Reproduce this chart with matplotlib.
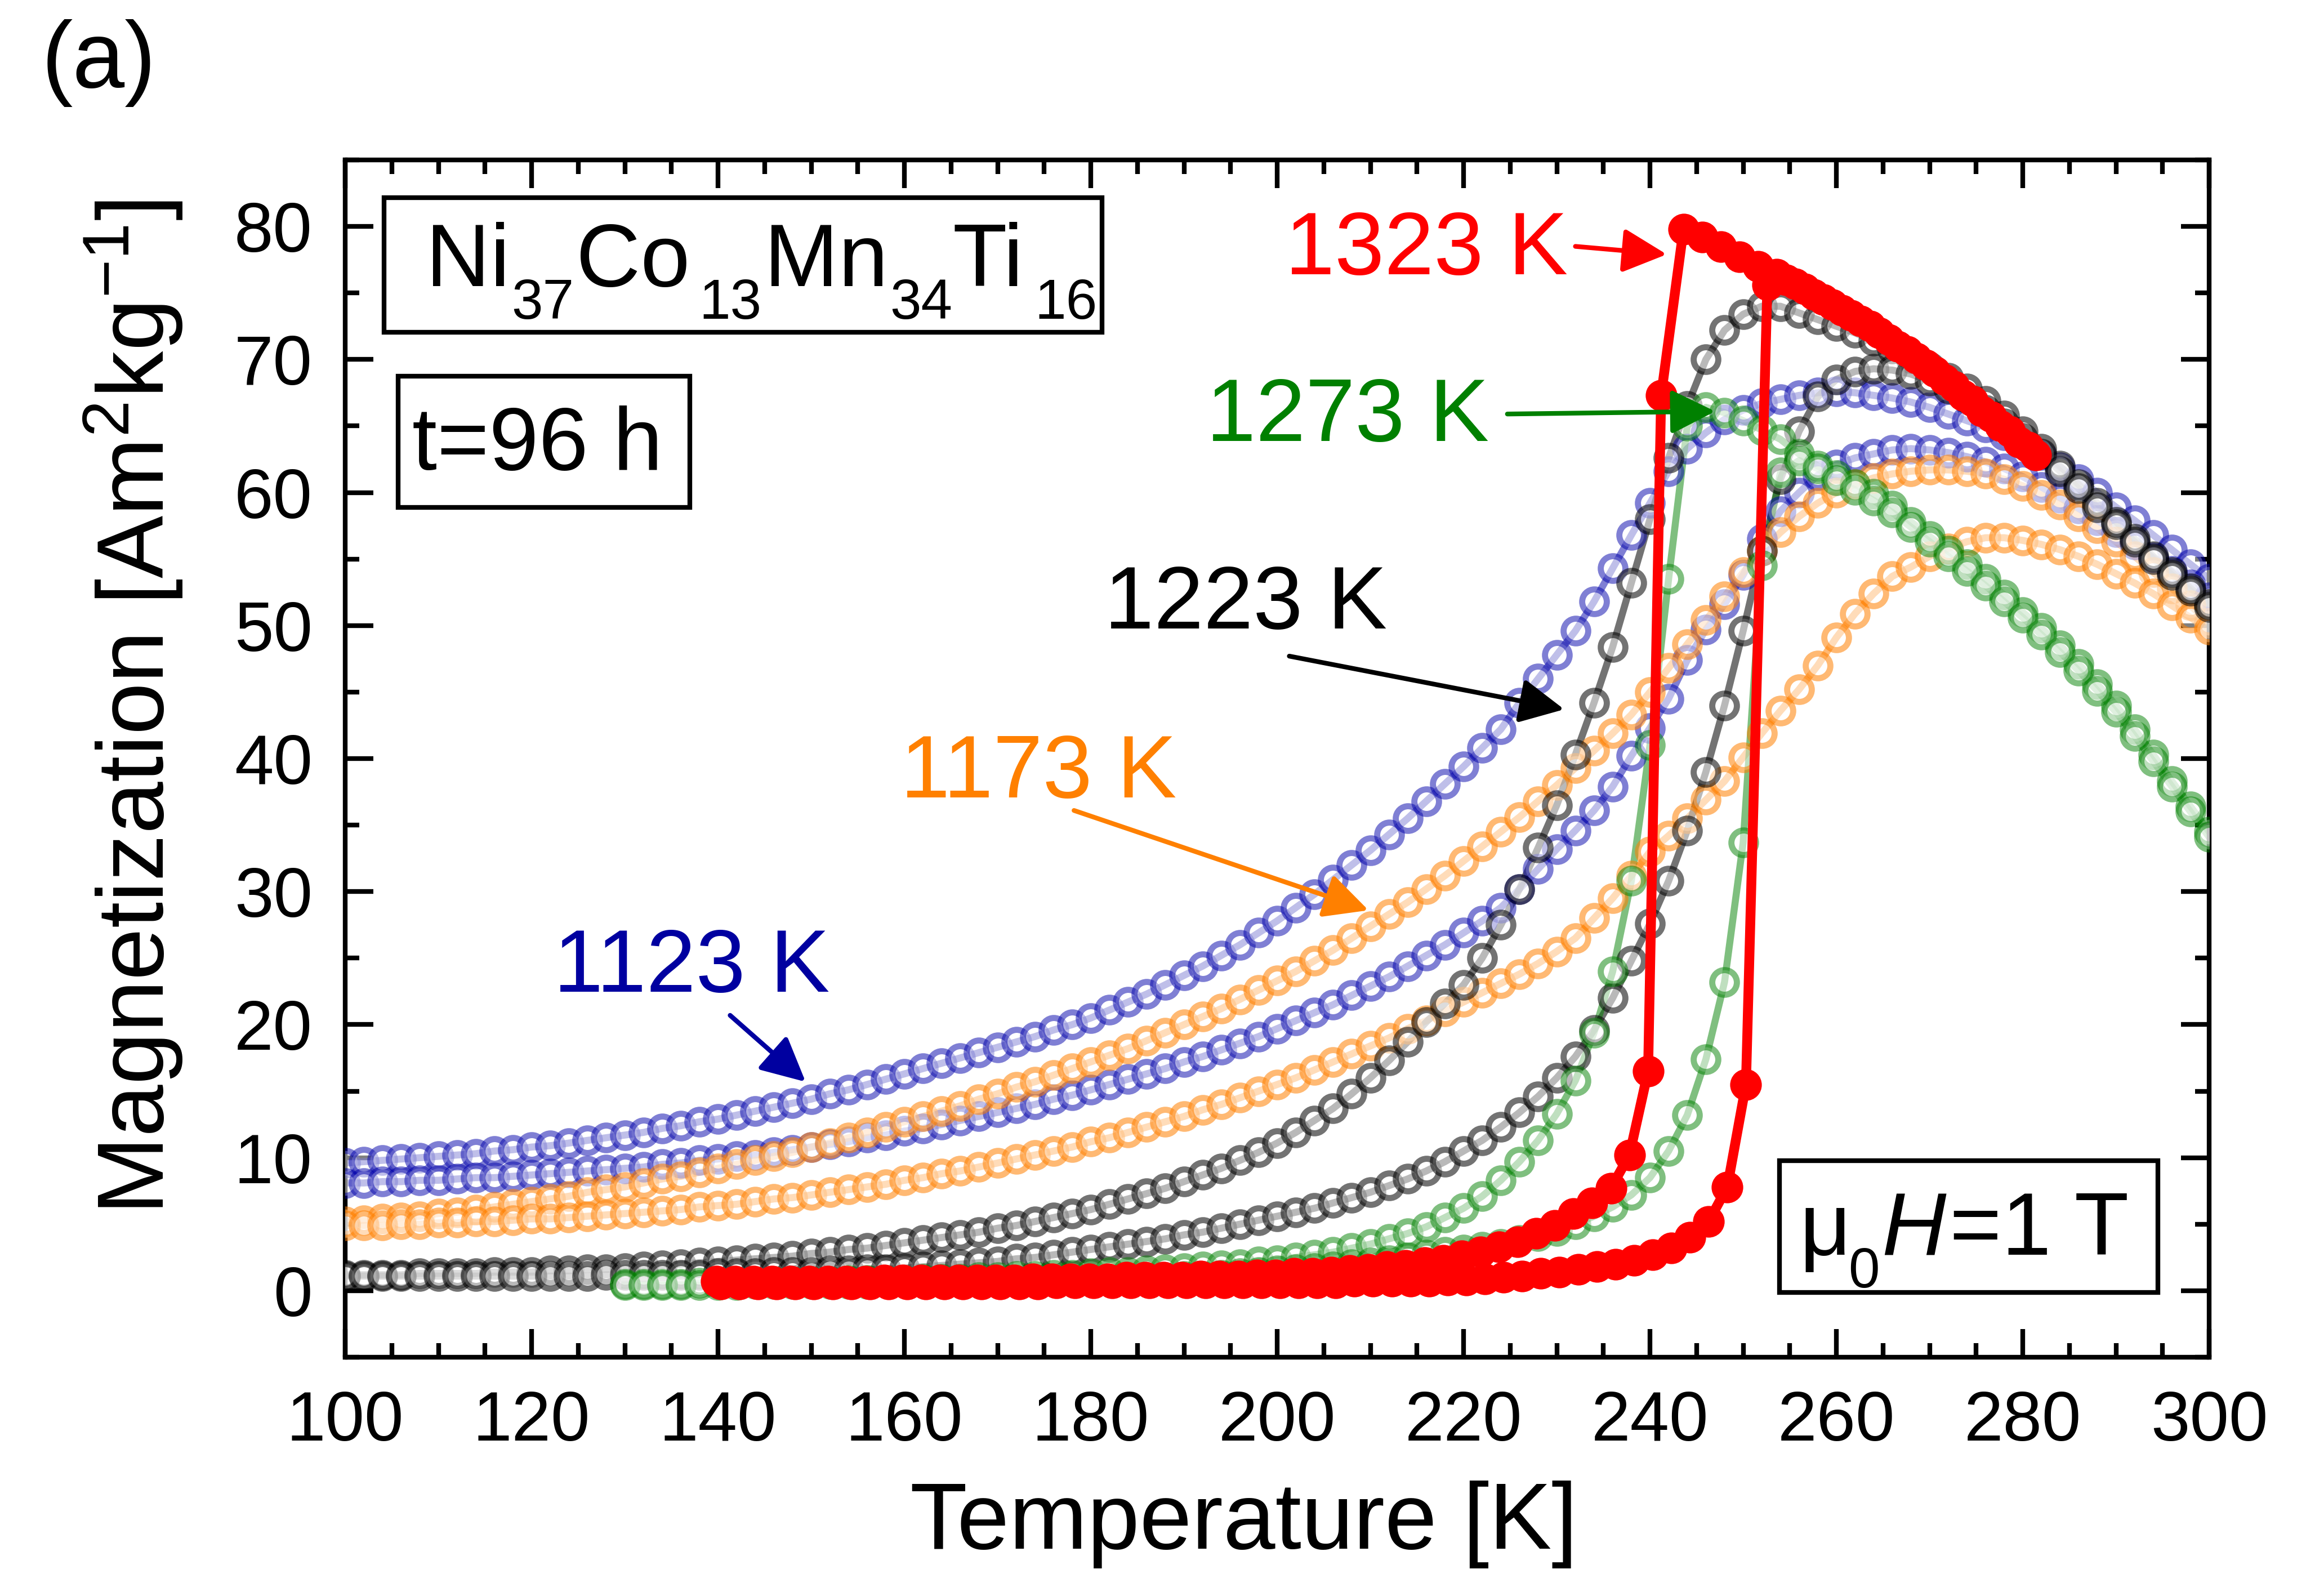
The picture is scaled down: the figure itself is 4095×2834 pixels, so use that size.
import matplotlib
matplotlib.use("Agg")
import matplotlib.pyplot as plt
import numpy as np
from matplotlib.colors import to_rgba
from matplotlib.patches import Rectangle
from matplotlib.ticker import MultipleLocator

plt.rcParams.update({
    "font.family": ["Liberation Sans", "DejaVu Sans"],
    "mathtext.fontset": "custom", "mathtext.rm": "Liberation Sans",
    "mathtext.it": "Liberation Sans:italic", "mathtext.default": "regular",
})

# ---------------- data (M in Am^2/kg)
T_full = np.arange(100, 301, 2)
blue_up = [9.6, 9.7, 9.8, 9.9, 10.0, 10.1, 10.2, 10.3, 10.5, 10.6,
           10.8, 10.9, 11.1, 11.3, 11.5, 11.7, 11.9, 12.2, 12.4, 12.7,
           12.9, 13.2, 13.5, 13.8, 14.1, 14.4, 14.8, 15.1, 15.5, 15.9,
           16.3, 16.7, 17.1, 17.5, 17.9, 18.3, 18.7, 19.1, 19.6, 20.0,
           20.5, 21.1, 21.7, 22.3, 23.0, 23.7, 24.4, 25.2, 26.0, 26.9,
           27.8, 28.8, 29.8, 30.9, 32.0, 33.1, 34.3, 35.5, 36.8, 38.1,
           39.4, 40.8, 42.2, 44.2, 46.0, 47.8, 49.6, 51.8, 54.3, 56.8,
           59.2, 61.6, 63.3, 64.5, 65.5, 66.2, 66.7, 67.0, 67.3, 67.5,
           67.6, 67.5, 67.3, 67.1, 66.8, 66.4, 65.9, 65.4, 64.9, 64.3,
           63.6, 62.8, 61.9, 61.0, 60.0, 58.9, 57.9, 56.8, 55.7, 54.6, 53.5]
blue_lo = [8.1, 8.1, 8.2, 8.2, 8.3, 8.3, 8.4, 8.5, 8.5, 8.6,
           8.7, 8.8, 8.9, 9.0, 9.1, 9.2, 9.3, 9.5, 9.6, 9.8,
           9.9, 10.1, 10.2, 10.4, 10.6, 10.8, 11.0, 11.2, 11.5, 11.7,
           12.0, 12.2, 12.5, 12.8, 13.1, 13.4, 13.7, 14.0, 14.4, 14.7,
           15.1, 15.5, 15.9, 16.3, 16.7, 17.2, 17.6, 18.1, 18.6, 19.1,
           19.7, 20.3, 20.9, 21.5, 22.2, 22.9, 23.6, 24.4, 25.2, 26.0,
           26.9, 27.8, 28.8, 30.2, 31.7, 33.2, 34.6, 36.1, 37.9, 40.2,
           42.3, 44.5, 47.4, 49.7, 51.6, 53.8, 56.5, 58.6, 60.0, 61.3,
           62.1, 62.6, 62.9, 63.2, 63.3, 63.2, 63.0, 62.7, 62.3, 61.8,
           61.2, 60.4, 59.6, 58.8, 57.9, 57.0, 56.1, 55.1, 54.1, 53.1, 52.1]
orange_up = [5.2, 5.3, 5.4, 5.5, 5.6, 5.8, 5.9, 6.1, 6.3, 6.5,
             6.7, 6.9, 7.1, 7.4, 7.6, 7.8, 8.1, 8.4, 8.6, 8.9,
             9.2, 9.5, 9.8, 10.1, 10.4, 10.8, 11.1, 11.5, 11.9, 12.3,
             12.7, 13.1, 13.5, 13.9, 14.4, 14.8, 15.3, 15.7, 16.2, 16.7,
             17.2, 17.7, 18.2, 18.8, 19.4, 20.0, 20.6, 21.2, 21.9, 22.6,
             23.3, 24.0, 24.8, 25.6, 26.5, 27.4, 28.3, 29.2, 30.2, 31.2,
             32.3, 33.4, 34.5, 35.6, 36.8, 38.0, 39.3, 40.6, 41.9, 43.3,
             45.0, 46.8, 48.6, 50.4, 52.2, 54.0, 55.6, 57.0, 58.2, 59.2,
             60.0, 60.6, 61.1, 61.4, 61.6, 61.7, 61.7, 61.6, 61.4, 61.0,
             60.5, 59.8, 59.1, 58.2, 57.3, 56.3, 55.2, 54.0, 52.8, 51.5, 50.2]
orange_lo = [4.9, 4.9, 4.9, 5.0, 5.0, 5.1, 5.1, 5.2, 5.2, 5.3,
             5.4, 5.4, 5.5, 5.6, 5.7, 5.8, 5.9, 6.0, 6.1, 6.3,
             6.4, 6.5, 6.7, 6.9, 7.0, 7.2, 7.4, 7.6, 7.8, 8.0,
             8.3, 8.5, 8.8, 9.0, 9.3, 9.6, 9.9, 10.2, 10.5, 10.8,
             11.2, 11.5, 11.9, 12.3, 12.7, 13.1, 13.6, 14.0, 14.5, 15.0,
             15.5, 16.0, 16.6, 17.2, 17.8, 18.4, 19.0, 19.7, 20.3, 21.0,
             21.7, 22.4, 23.1, 23.8, 24.6, 25.5, 26.5, 28.0, 29.5, 31.2,
             33.0, 34.2, 35.5, 36.9, 38.3, 40.1, 41.9, 43.6, 45.2, 47.0,
             49.1, 50.9, 52.4, 53.7, 54.4, 55.2, 55.8, 56.3, 56.6, 56.6,
             56.4, 56.1, 55.7, 55.2, 54.6, 53.9, 53.2, 52.4, 51.5, 50.6, 49.7]
gray_up = [1.2, 1.2, 1.2, 1.2, 1.3, 1.3, 1.3, 1.3, 1.4, 1.4,
           1.4, 1.5, 1.5, 1.6, 1.6, 1.7, 1.8, 1.9, 2.0, 2.1,
           2.2, 2.3, 2.4, 2.5, 2.6, 2.8, 2.9, 3.1, 3.2, 3.4,
           3.6, 3.8, 4.0, 4.2, 4.4, 4.7, 4.9, 5.2, 5.5, 5.8,
           6.1, 6.5, 6.9, 7.3, 7.7, 8.2, 8.7, 9.2, 9.8, 10.4,
           11.1, 11.9, 12.8, 13.7, 14.8, 16.0, 17.3, 18.7, 20.2, 21.6,
           23.0, 25.0, 27.5, 30.2, 33.3, 36.5, 40.3, 44.2, 48.4, 53.2,
           58.0, 62.6, 66.5, 70.0, 72.2, 73.4, 74.0, 74.0, 73.5, 73.0,
           72.5, 72.0, 71.4, 70.8, 70.1, 69.4, 68.6, 67.8, 66.9, 65.8,
           64.6, 63.3, 62.0, 60.6, 59.2, 57.8, 56.5, 55.2, 54.0, 52.8, 51.6]
gray_lo = [1.1, 1.1, 1.1, 1.1, 1.1, 1.1, 1.1, 1.1, 1.1, 1.1,
           1.1, 1.1, 1.1, 1.1, 1.2, 1.2, 1.2, 1.2, 1.2, 1.2,
           1.3, 1.3, 1.3, 1.4, 1.4, 1.4, 1.5, 1.5, 1.6, 1.6,
           1.7, 1.8, 1.9, 2.0, 2.1, 2.2, 2.4, 2.5, 2.7, 2.9,
           3.1, 3.3, 3.5, 3.7, 3.9, 4.2, 4.4, 4.7, 5.0, 5.3,
           5.6, 5.9, 6.2, 6.6, 7.0, 7.4, 7.9, 8.4, 9.0, 9.7,
           10.5, 11.3, 12.3, 13.4, 14.6, 16.0, 17.6, 19.6, 22.0, 24.8,
           27.6, 30.8, 34.6, 39.0, 44.0, 49.6, 55.6, 61.0, 64.6, 67.2,
           68.5, 69.1, 69.3, 69.2, 68.9, 68.4, 67.8, 67.1, 66.2, 65.2,
           64.1, 62.9, 61.6, 60.3, 58.9, 57.6, 56.3, 55.0, 53.8, 52.6, 51.4]

T_green = np.arange(130, 301, 2)
green_up = [0.5, 0.5, 0.5, 0.5, 0.6, 0.6, 0.6, 0.6, 0.7, 0.7,
            0.7, 0.7, 0.8, 0.8, 0.8, 0.8, 0.9, 0.9, 0.9, 1.0,
            1.0, 1.1, 1.1, 1.2, 1.2, 1.3, 1.4, 1.4, 1.5, 1.6,
            1.7, 1.8, 1.9, 2.0, 2.2, 2.3, 2.5, 2.7, 2.9, 3.2,
            3.5, 3.9, 4.3, 4.8, 5.5, 6.2, 7.1, 8.3, 9.7, 11.3,
            13.3, 15.8, 19.4, 24.0, 30.8, 41.0, 53.5, 65.0, 66.4, 66.0,
            65.4, 64.7, 64.0, 62.9, 62.0, 61.3, 60.6, 59.9, 59.0, 57.8,
            56.7, 55.6, 54.6, 53.5, 52.3, 51.0, 49.8, 48.5, 47.1, 45.6,
            44.0, 42.2, 40.3, 38.3, 36.4, 34.5]
green_lo = [0.4, 0.4, 0.4, 0.4, 0.4, 0.4, 0.4, 0.5, 0.5, 0.5,
            0.5, 0.5, 0.5, 0.5, 0.6, 0.6, 0.6, 0.6, 0.6, 0.7,
            0.7, 0.7, 0.7, 0.8, 0.8, 0.8, 0.9, 0.9, 1.0, 1.0,
            1.1, 1.1, 1.2, 1.3, 1.4, 1.5, 1.6, 1.7, 1.8, 2.0,
            2.1, 2.3, 2.5, 2.7, 2.9, 3.1, 3.3, 3.5, 3.8, 4.1,
            4.5, 5.0, 5.6, 6.3, 7.2, 8.5, 10.5, 13.2, 17.4, 23.2,
            33.7, 54.5, 61.5, 62.4, 61.8, 60.9, 60.2, 59.4, 58.5, 57.4,
            56.3, 55.2, 54.1, 53.0, 51.8, 50.6, 49.3, 48.0, 46.6, 45.1,
            43.5, 41.7, 39.8, 37.9, 36.0, 34.1]

T_red_cool = np.concatenate([np.arange(139.8, 240, 2), [241.2],
                             np.arange(243.6, 280, 2), [281.4]])
red_cool = [0.7, 0.7, 0.7, 0.7, 0.7, 0.7, 0.7, 0.7, 0.7, 0.8,
            0.8, 0.8, 0.8, 0.8, 0.8, 0.8, 0.8, 0.9, 0.9, 0.9,
            0.9, 0.9, 1.0, 1.0, 1.0, 1.0, 1.1, 1.1, 1.1, 1.2,
            1.2, 1.3, 1.3, 1.4, 1.5, 1.6, 1.8, 1.9, 2.1, 2.3,
            2.6, 2.9, 3.3, 3.7, 4.3, 4.9, 5.8, 6.6, 7.7, 10.2,
            16.5, 67.3,
            79.8, 79.2, 78.5, 77.7, 77.0, 76.4, 75.7, 74.9, 74.1, 73.3,
            72.5, 71.5, 70.6, 69.6, 68.5, 67.3, 66.1, 65.0, 63.8, 62.8]
T_red_heat = np.concatenate([np.arange(140.3, 251, 2), [252.6],
                             np.arange(254.6, 281, 2)])
red_heat = [0.5, 0.5, 0.5, 0.5, 0.5, 0.5, 0.5, 0.5, 0.5, 0.5,
            0.5, 0.5, 0.5, 0.5, 0.5, 0.5, 0.5, 0.5, 0.6, 0.6,
            0.6, 0.6, 0.6, 0.6, 0.6, 0.6, 0.6, 0.6, 0.6, 0.6,
            0.6, 0.6, 0.6, 0.6, 0.7, 0.7, 0.7, 0.7, 0.7, 0.8,
            0.8, 0.9, 1.0, 1.1, 1.3, 1.4, 1.6, 1.8, 2.0, 2.3,
            2.7, 3.2, 4.0, 5.2, 7.8, 15.5,
            75.6,
            76.0, 75.3, 74.5, 73.7, 72.9, 72.0, 71.0, 70.1, 69.1, 68.0,
            66.9, 65.7, 64.6, 63.4]

# ---------------- figure
fig = plt.figure(figsize=(13.65, 9.4467), dpi=300)
ax = fig.add_axes([0.1497, 0.1496, 0.8083, 0.7502])


def open_series(T, M, color, alpha):
    ax.plot(T, M, "-", color=color, alpha=alpha, lw=3.0, zorder=2)
    ax.plot(T, M, "o", ls="none", ms=10.5, mew=2.6,
            mfc=(1, 1, 1, 0.5), mec=to_rgba(color, alpha), zorder=3)


for M in (blue_up, blue_lo):
    open_series(T_full, M, "#0000AA", 0.5)
for M in (orange_up, orange_lo):
    open_series(T_full, M, "#FF8000", 0.55)
for M in (gray_up, gray_lo):
    open_series(T_full, M, "#000000", 0.55)
for M in (green_up, green_lo):
    open_series(T_green, M, "#008000", 0.5)
for T, M in ((T_red_heat, red_heat), (T_red_cool, red_cool)):
    ax.plot(T, M, "-o", color="#FF0000", lw=4.2, ms=13.5, mew=0, zorder=4)

ax.set_xlim(100, 300)
ax.set_ylim(-5, 85)
ax.xaxis.set_major_locator(MultipleLocator(20))
ax.xaxis.set_minor_locator(MultipleLocator(5))
ax.yaxis.set_major_locator(MultipleLocator(10))
ax.yaxis.set_minor_locator(MultipleLocator(5))
ax.tick_params(which="both", direction="in", top=True, right=True, width=2)
ax.tick_params(which="major", length=12, labelsize=30, pad=14)
ax.tick_params(which="minor", length=6)
for s in ax.spines.values():
    s.set_linewidth(2)
ax.set_xlabel("Temperature [K]", fontsize=40)
ax.set_ylabel("Magnetization [Am$^2$kg$^{-1}$]", fontsize=40)
ax.xaxis.set_label_coords(0.482, -0.103)
ax.yaxis.set_label_coords(-0.086, 0.543)

# curve labels with arrows
labels = [("1323 K", "#FF0000", (231.2, 78.1), (232.0, 78.5), (241.8, 77.9)),
          ("1273 K", "#008000", (222.7, 65.6), (224.7, 65.9), (247.0, 66.1)),
          ("1223 K", "#000000", (211.8, 51.5), (201.3, 47.7), (230.8, 43.7)),
          ("1173 K", "#FF8000", (189.2, 38.8), (178.2, 36.1), (209.8, 28.6)),
          ("1123 K", "#0000A0", (152.0, 24.2), (141.3, 20.7), (149.4, 15.7))]
for txt, c, tpos, start, tip in labels:
    ax.text(*tpos, txt, color=c, fontsize=38, ha="right", va="center",
            zorder=6)
    ax.annotate("", xy=tip, xytext=start, zorder=6,
                arrowprops=dict(arrowstyle="-|>", color=c, lw=2,
                                mutation_scale=40, shrinkA=0, shrinkB=0))

# boxed notes
for x0, y0, x1, y1 in ((0.0208, 0.856, 0.406, 0.9685),
                       (0.0284, 0.710, 0.1849, 0.8194),
                       (0.7695, 0.0541, 0.9725, 0.1642)):
    ax.add_patch(Rectangle((x0, y0), x1 - x0, y1 - y0, transform=ax.transAxes,
                           fill=True, fc="white", ec="black", lw=2, zorder=7))

# composition, with lowered subscripts
pieces = [("Ni", 0.0432, 0.8948, 38), ("37", 0.0891, 0.8675, 24),
          ("Co", 0.1240, 0.8948, 38), ("13", 0.1897, 0.8675, 24),
          ("Mn", 0.2248, 0.8948, 38), ("34", 0.2921, 0.8675, 24),
          ("Ti", 0.3257, 0.8948, 38), ("16", 0.3698, 0.8675, 24)]
for s, x, y, fs in pieces:
    ax.text(x, y, s, fontsize=fs, transform=ax.transAxes, va="baseline",
            zorder=8)
ax.text(0.036, 0.7415, "t=96 h", fontsize=38, transform=ax.transAxes,
        va="baseline", zorder=8)
ax.text(0.7802, 0.0854, "μ", fontsize=38, transform=ax.transAxes,
        va="baseline", zorder=8)
ax.text(0.8065, 0.0583, "0", fontsize=24, transform=ax.transAxes,
        va="baseline", zorder=8)
ax.text(0.8241, 0.0854, "H", fontsize=38, style="italic",
        transform=ax.transAxes, va="baseline", zorder=8)
ax.text(0.8606, 0.0854, "=1 T", fontsize=38, transform=ax.transAxes,
        va="baseline", zorder=8)

fig.text(0.018, 0.988, "(a)", fontsize=40, va="top", ha="left")

fig.savefig("out.png", dpi=300)
